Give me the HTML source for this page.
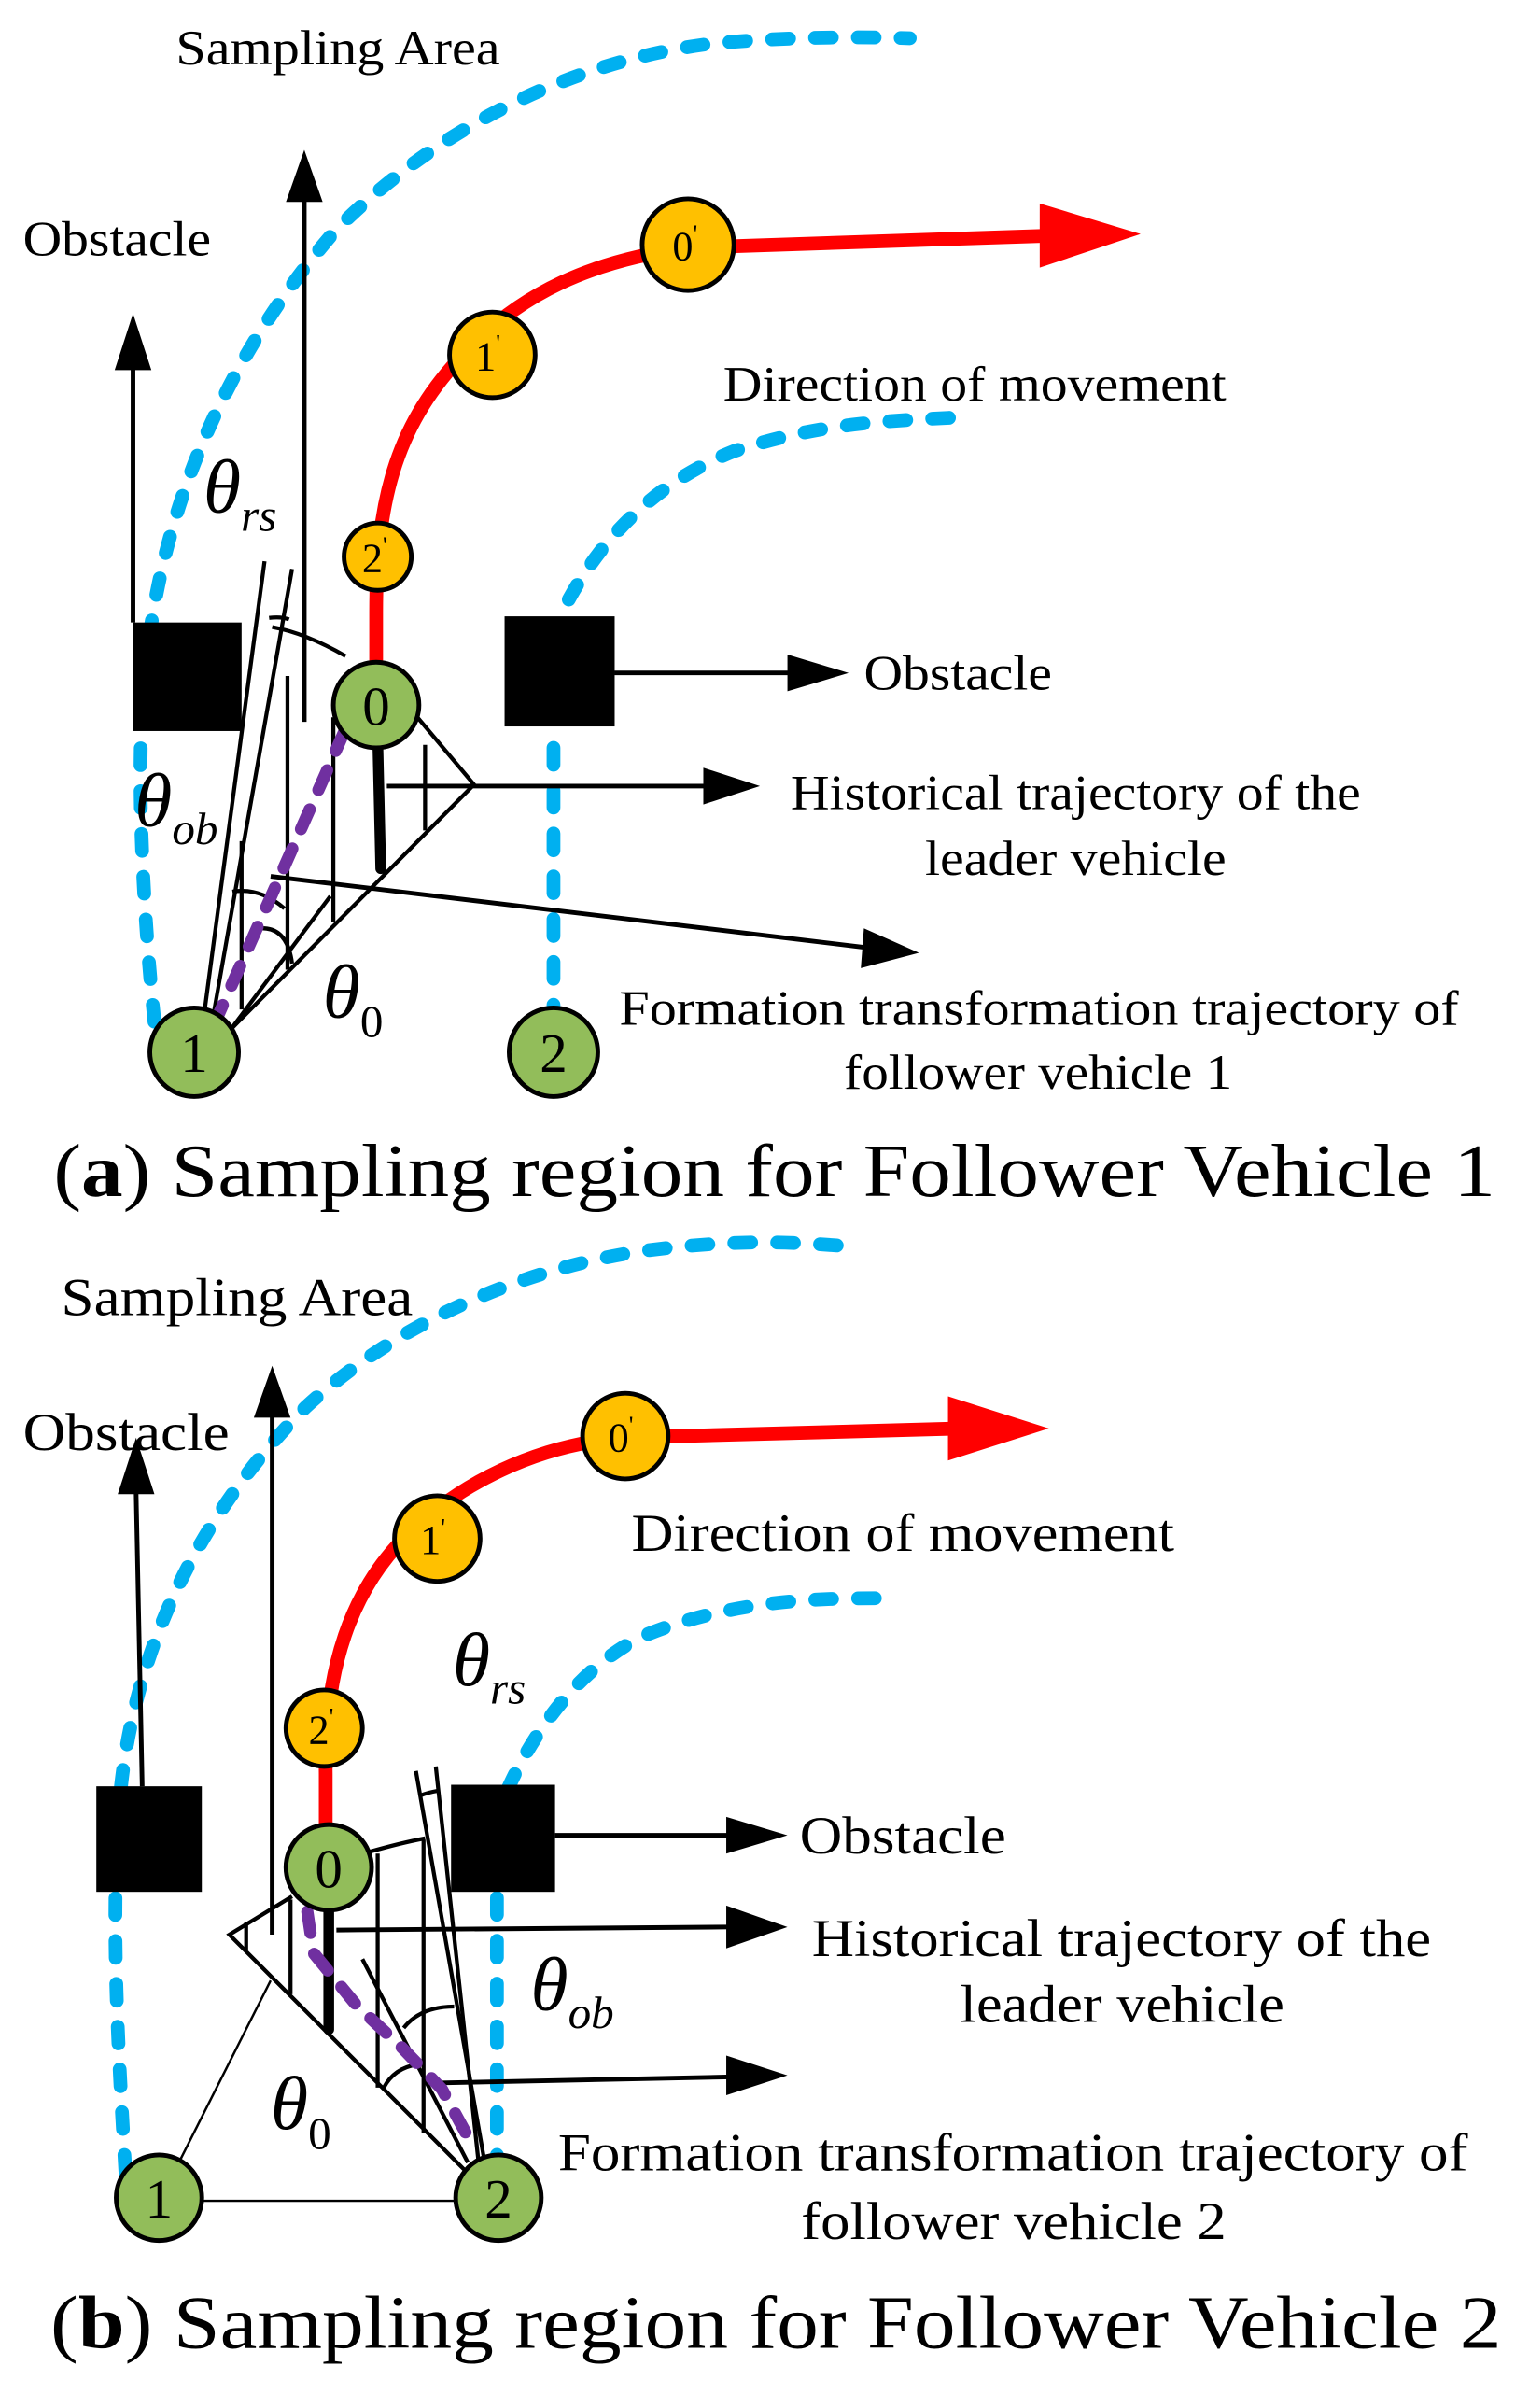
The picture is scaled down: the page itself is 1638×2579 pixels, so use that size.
<!DOCTYPE html>
<html><head><meta charset="utf-8"><style>html,body{margin:0;padding:0;background:#fff}svg{display:block}</style></head>
<body>
<svg width="1638" height="2579" viewBox="0 0 1000 1574.5" xmlns="http://www.w3.org/2000/svg" font-family="'Liberation Serif', serif">

<!-- ===== PANEL A ===== -->
<g fill="none" stroke="#00B0F0" stroke-width="9" stroke-linecap="round" stroke-dasharray="11 17">
<path d="M101,668 C94,600 88,500 95,440 C105,330 150,230 220,150 C290,80 380,38 470,28 C520,24 560,24 595,25"/>
<path d="M362,668 L362,475 M372,392 C395,350 430,315 480,295 C540,275 590,275 625,273"/>
</g>
<path d="M246,440 L246,400 C246,330 258,280 300,235 C340,190 390,170 450,162 L690,154" fill="none" stroke="#f00" stroke-width="9"/>
<path d="M680,133 L746,153 L680,175 z" fill="#f00"/>
<rect x="87" y="407" width="71" height="71" fill="#000"/>
<rect x="330" y="403" width="72" height="72" fill="#000"/>
<g stroke="#000" stroke-width="3" fill="none">
<line x1="87" y1="407" x2="87" y2="240"/>
<line x1="199" y1="472" x2="199" y2="130"/>
<line x1="402" y1="440" x2="520" y2="440"/>
<line x1="253" y1="514" x2="465" y2="514"/>
<line x1="177" y1="573" x2="570" y2="620"/>
</g>
<path d="M75,242 L87,205 L99,242z M187,132 L199,98 L211,132z M515,428 L555,440 L515,452z M460,502 L497,514 L460,526z M565,607 L601,623 L563,633z" fill="#000"/>
<g stroke="#000" stroke-width="2.6" fill="none">
<line x1="133" y1="667" x2="173" y2="367"/>
<line x1="139" y1="667" x2="191" y2="372"/>
<path d="M176,404 Q184,403 189,405"/>
<path d="M178,410 Q200,414 226,429"/>
<path d="M273,469 L310,513 L151,673"/>
<line x1="151" y1="673" x2="216" y2="586"/>
<line x1="158" y1="550" x2="158" y2="660"/>
<line x1="188" y1="442" x2="188" y2="634"/>
<line x1="218" y1="469" x2="218" y2="603"/>
<line x1="278" y1="487" x2="278" y2="543"/>
<path d="M152,583 Q170,580 186,594"/>
<path d="M170,607 Q188,606 191,630"/>
</g>
<line x1="247" y1="482" x2="249" y2="568" stroke="#000" stroke-width="7" stroke-linecap="round"/>
<path d="M140,670 L228,472" stroke="#7030A0" stroke-width="8" stroke-dasharray="14 14" stroke-linecap="round" fill="none"/>
<g stroke="#000" stroke-width="3">
<circle cx="127" cy="688" r="29" fill="#92BD5A"/>
<circle cx="362" cy="688" r="29" fill="#92BD5A"/>
<circle cx="246" cy="461" r="28" fill="#92BD5A"/>
<circle cx="247" cy="364" r="22" fill="#FFC000"/>
<circle cx="322" cy="232" r="28" fill="#FFC000"/>
<circle cx="450" cy="160" r="30" fill="#FFC000"/>
</g>
<g font-size="36" text-anchor="middle" fill="#000">
<text x="127" y="701">1</text><text x="362" y="701">2</text><text x="246" y="474">0</text>
</g>
<g font-size="27" text-anchor="middle" fill="#000">
<text x="245" y="374">2<tspan font-size="16" dy="-12">'</tspan></text>
<text x="319" y="242">1<tspan font-size="16" dy="-12">'</tspan></text>
<text x="448" y="170">0<tspan font-size="16" dy="-12">'</tspan></text>
</g>
<g font-style="italic" fill="#000">
<text x="133" y="335" font-size="50">θ<tspan font-size="30" dy="12">rs</tspan></text>
<text x="88" y="540" font-size="50">θ<tspan font-size="30" dy="12">ob</tspan></text>
<text x="211" y="665" font-size="50">θ<tspan font-size="30" dy="13" font-style="normal">0</tspan></text>
</g>
<g font-size="32" fill="#000">
<text x="115" y="42" textLength="212" lengthAdjust="spacingAndGlyphs">Sampling Area</text>
<text x="15" y="167" textLength="123" lengthAdjust="spacingAndGlyphs">Obstacle</text>
<text x="473" y="262" textLength="329" lengthAdjust="spacingAndGlyphs">Direction of movement</text>
<text x="565" y="451" textLength="123" lengthAdjust="spacingAndGlyphs">Obstacle</text>
<text x="517" y="529" textLength="373" lengthAdjust="spacingAndGlyphs">Historical trajectory of the</text>
<text x="605" y="572" textLength="197" lengthAdjust="spacingAndGlyphs">leader vehicle</text>
<text x="405" y="670" textLength="549" lengthAdjust="spacingAndGlyphs">Formation transformation trajectory of</text>
<text x="552" y="712" textLength="254" lengthAdjust="spacingAndGlyphs">follower vehicle 1</text>
</g>
<text x="35" y="782" font-size="49" textLength="943" lengthAdjust="spacingAndGlyphs">(<tspan font-weight="bold">a</tspan>) Sampling region for Follower Vehicle 1</text>

<!-- ===== PANEL B ===== -->
<g fill="none" stroke="#00B0F0" stroke-width="9" stroke-linecap="round" stroke-dasharray="11 17">
<path d="M82,1420 C78,1350 72,1260 78,1180 C86,1080 130,990 200,920 C260,865 340,830 420,818 C480,810 520,812 555,815"/>
<path d="M325,1420 L325,1240 M332,1170 C350,1130 380,1090 420,1070 C480,1045 540,1045 580,1045"/>
</g>
<path d="M213,1202 L213,1160 C212,1090 230,1040 265,1005 C300,970 350,945 408,940 L630,934" fill="none" stroke="#f00" stroke-width="9"/>
<path d="M620,913 L686,934 L620,955 z" fill="#f00"/>
<rect x="63" y="1168" width="69" height="69" fill="#000"/>
<rect x="295" y="1167" width="68" height="70" fill="#000"/>
<g stroke="#000" stroke-width="3" fill="none">
<line x1="93" y1="1168" x2="89" y2="975"/>
<line x1="178" y1="1265" x2="178" y2="925"/>
<line x1="363" y1="1200" x2="480" y2="1200"/>
<line x1="220" y1="1262" x2="478" y2="1260"/>
<line x1="285" y1="1362" x2="478" y2="1358"/>
</g>
<path d="M77,977 L89,940 L101,977z M166,927 L178,893 L190,927z M475,1188 L515,1200 L475,1212z M475,1246 L515,1260 L475,1274z M475,1344 L515,1357 L475,1370z" fill="#000"/>
<g stroke="#000" stroke-width="2.6" fill="none">
<path d="M191,1240 L150,1265 L306,1421"/>
<path d="M241,1211 Q262,1205 278,1202"/>
<line x1="317" y1="1414" x2="272" y2="1158"/>
<line x1="313" y1="1414" x2="285" y2="1155"/>
<path d="M275,1174 Q280,1172 286,1171"/>
<line x1="237" y1="1281" x2="306" y2="1414"/>
<line x1="161" y1="1257" x2="161" y2="1275"/>
<line x1="190" y1="1242" x2="190" y2="1304"/>
<line x1="247" y1="1212" x2="247" y2="1365"/>
<line x1="277" y1="1203" x2="277" y2="1395"/>
<path d="M264,1326 Q275,1312 297,1312"/>
<path d="M251,1365 Q258,1352 273,1350"/>
</g>
<g stroke="#000" stroke-width="1.5">
<line x1="117" y1="1414" x2="177" y2="1295"/>
<line x1="133" y1="1439" x2="298" y2="1439"/>
</g>
<line x1="215" y1="1249" x2="215" y2="1327" stroke="#000" stroke-width="7" stroke-linecap="round"/>
<path d="M201,1250 L205,1277 L233,1311 L263,1339 L289,1366 L307,1399" stroke="#7030A0" stroke-width="8" stroke-dasharray="14 14" stroke-linecap="round" fill="none"/>
<g stroke="#000" stroke-width="3">
<circle cx="104" cy="1437" r="28" fill="#92BD5A"/>
<circle cx="326" cy="1437" r="28" fill="#92BD5A"/>
<circle cx="215" cy="1221" r="28" fill="#92BD5A"/>
<circle cx="212" cy="1130" r="25" fill="#FFC000"/>
<circle cx="286" cy="1006" r="28" fill="#FFC000"/>
<circle cx="409" cy="939" r="28" fill="#FFC000"/>
</g>
<g font-size="36" text-anchor="middle" fill="#000">
<text x="104" y="1450">1</text><text x="326" y="1450">2</text><text x="215" y="1234">0</text>
</g>
<g font-size="27" text-anchor="middle" fill="#000">
<text x="210" y="1140">2<tspan font-size="16" dy="-12">'</tspan></text>
<text x="283" y="1016">1<tspan font-size="16" dy="-12">'</tspan></text>
<text x="406" y="949">0<tspan font-size="16" dy="-12">'</tspan></text>
</g>
<g font-style="italic" fill="#000">
<text x="296" y="1102" font-size="50">θ<tspan font-size="30" dy="12">rs</tspan></text>
<text x="347" y="1314" font-size="50">θ<tspan font-size="30" dy="12">ob</tspan></text>
<text x="177" y="1392" font-size="50">θ<tspan font-size="30" dy="13" font-style="normal">0</tspan></text>
</g>
<g font-size="35" fill="#000">
<text x="40" y="860" textLength="230" lengthAdjust="spacingAndGlyphs">Sampling Area</text>
<text x="15" y="948" textLength="135" lengthAdjust="spacingAndGlyphs">Obstacle</text>
<text x="413" y="1014" textLength="355" lengthAdjust="spacingAndGlyphs">Direction of movement</text>
<text x="523" y="1212" textLength="135" lengthAdjust="spacingAndGlyphs">Obstacle</text>
<text x="531" y="1279" textLength="405" lengthAdjust="spacingAndGlyphs">Historical trajectory of the</text>
<text x="628" y="1322" textLength="212" lengthAdjust="spacingAndGlyphs">leader vehicle</text>
<text x="365" y="1419" textLength="595" lengthAdjust="spacingAndGlyphs">Formation transformation trajectory of</text>
<text x="524" y="1464" textLength="278" lengthAdjust="spacingAndGlyphs">follower vehicle 2</text>
</g>
<text x="33" y="1535" font-size="49" textLength="949" lengthAdjust="spacingAndGlyphs">(<tspan font-weight="bold">b</tspan>) Sampling region for Follower Vehicle 2</text>
</svg>
</body></html>
